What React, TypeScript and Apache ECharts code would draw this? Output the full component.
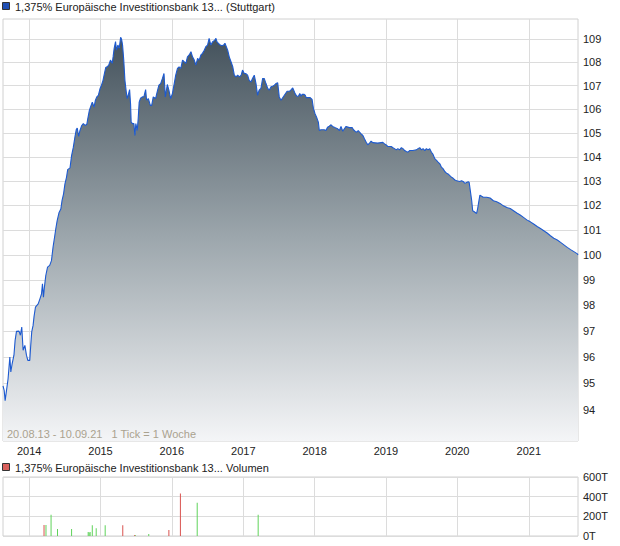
import React, { useEffect, useRef } from 'react';
import * as echarts from 'echarts';

const TITLE_PRICE = '1,375% Europäische Investitionsbank 13... (Stuttgart)';
const TITLE_VOLUME = '1,375% Europäische Investitionsbank 13... Volumen';
const RANGE_NOTE = '20.08.13 - 10.09.21   1 Tick = 1 Woche';

const X_MIN = '2013-08-20';
const X_MAX = '2021-09-10';
const YEAR_TICKS = ['2014-01-01', '2015-01-01', '2016-01-01', '2017-01-01', '2018-01-01', '2019-01-01', '2020-01-01', '2021-01-01'];
const PRICE_TICKS = [94, 95, 96, 97, 98, 99, 100, 101, 102, 103, 104, 105, 106, 107, 108, 109];
const PRICE_MIN = 92.83;
const PRICE_MAX = 109.89;
const VOLUME_TICKS = [0, 200000, 400000, 600000];

const PRICE: [string, number][] = [
  ['2013-08-20', 94.9], ['2013-08-26', 94.73], ['2013-08-31', 94.34], ['2013-09-07', 94.73], ['2013-09-15', 95.17],
  ['2013-09-24', 96.0], ['2013-09-29', 95.43], ['2013-10-06', 95.75], ['2013-10-15', 96.07], ['2013-10-21', 96.64],
  ['2013-10-28', 96.99], ['2013-11-10', 97.0], ['2013-11-17', 96.84], ['2013-11-24', 97.16], ['2013-12-01', 96.26],
  ['2013-12-10', 96.45], ['2013-12-18', 96.07], ['2013-12-25', 95.87], ['2014-01-04', 95.87], ['2014-01-09', 96.45],
  ['2014-01-14', 96.97], ['2014-01-21', 97.22], ['2014-01-26', 97.57], ['2014-02-02', 97.93], ['2014-02-16', 98.06],
  ['2014-02-25', 98.26], ['2014-03-05', 98.45], ['2014-03-10', 98.85], ['2014-03-15', 98.32], ['2014-03-20', 98.72],
  ['2014-03-27', 99.18], ['2014-04-05', 99.51], ['2014-04-16', 99.58], ['2014-04-25', 99.77], ['2014-05-03', 100.3],
  ['2014-05-12', 100.77], ['2014-05-17', 101.04], ['2014-05-24', 101.37], ['2014-06-03', 101.71], ['2014-06-12', 101.85],
  ['2014-06-18', 102.19], ['2014-06-26', 102.47], ['2014-07-03', 102.88], ['2014-07-11', 103.15], ['2014-07-17', 103.47],
  ['2014-07-29', 103.54], ['2014-08-06', 104.05], ['2014-08-15', 104.4], ['2014-08-23', 104.82], ['2014-08-30', 105.14],
  ['2014-09-04', 105.2], ['2014-09-11', 104.85], ['2014-09-18', 105.1], ['2014-09-27', 105.31], ['2014-10-05', 105.39],
  ['2014-10-14', 105.31], ['2014-10-23', 105.36], ['2014-10-28', 105.6], ['2014-11-05', 105.95], ['2014-11-12', 106.12],
  ['2014-11-20', 106.3], ['2014-11-29', 106.09], ['2014-12-06', 106.38], ['2014-12-13', 106.52], ['2014-12-21', 106.59],
  ['2014-12-30', 106.88], ['2015-01-06', 107.02], ['2015-01-14', 107.23], ['2015-01-21', 107.52], ['2015-01-28', 107.78],
  ['2015-02-04', 107.81], ['2015-02-12', 107.88], ['2015-02-21', 108.1], ['2015-03-02', 107.96], ['2015-03-07', 108.27],
  ['2015-03-12', 108.61], ['2015-03-19', 108.9], ['2015-03-24', 108.53], ['2015-03-31', 108.75], ['2015-04-07', 108.61],
  ['2015-04-14', 109.09], ['2015-04-19', 109.0], ['2015-04-24', 108.75], ['2015-04-30', 108.1], ['2015-05-06', 107.23],
  ['2015-05-13', 106.73], ['2015-05-18', 106.45], ['2015-05-25', 106.66], ['2015-05-30', 106.83], ['2015-06-04', 106.21],
  ['2015-06-07', 105.45], ['2015-06-14', 105.39], ['2015-06-21', 105.39], ['2015-06-26', 104.89], ['2015-07-01', 105.39],
  ['2015-07-08', 105.1], ['2015-07-13', 105.6], ['2015-07-18', 106.3], ['2015-07-25', 106.47], ['2015-08-03', 106.52],
  ['2015-08-11', 106.52], ['2015-08-20', 106.83], ['2015-08-25', 106.38], ['2015-09-03', 106.45], ['2015-09-13', 106.16],
  ['2015-09-20', 106.16], ['2015-09-28', 106.52], ['2015-10-10', 106.45], ['2015-10-19', 106.77], ['2015-10-27', 107.02],
  ['2015-11-05', 107.09], ['2015-11-14', 107.31], ['2015-11-22', 107.52], ['2015-11-29', 106.52], ['2015-12-09', 107.05],
  ['2015-12-17', 106.81], ['2015-12-26', 106.45], ['2016-01-04', 106.66], ['2016-01-12', 107.02], ['2016-01-21', 107.45],
  ['2016-01-30', 107.74], ['2016-02-07', 107.81], ['2016-02-16', 107.74], ['2016-02-25', 108.1], ['2016-03-04', 108.03],
  ['2016-03-13', 107.96], ['2016-03-21', 108.24], ['2016-03-30', 108.32], ['2016-04-08', 108.46], ['2016-04-16', 108.24],
  ['2016-04-25', 108.1], ['2016-05-03', 107.88], ['2016-05-12', 108.17], ['2016-05-20', 108.1], ['2016-05-29', 108.32],
  ['2016-06-06', 108.39], ['2016-06-15', 108.53], ['2016-06-23', 108.68], ['2016-07-02', 108.75], ['2016-07-10', 109.04],
  ['2016-07-19', 108.75], ['2016-07-28', 108.9], ['2016-08-05', 108.94], ['2016-08-14', 109.04], ['2016-08-19', 108.9],
  ['2016-08-26', 108.83], ['2016-09-05', 108.75], ['2016-09-14', 108.72], ['2016-09-22', 108.75], ['2016-09-29', 108.83],
  ['2016-10-06', 108.68], ['2016-10-13', 108.53], ['2016-10-21', 108.24], ['2016-10-30', 108.03], ['2016-11-08', 107.81],
  ['2016-11-16', 107.45], ['2016-11-25', 107.38], ['2016-12-03', 107.45], ['2016-12-12', 107.38], ['2016-12-21', 107.45],
  ['2016-12-28', 107.67], ['2017-01-06', 107.52], ['2017-01-14', 107.52], ['2017-01-23', 107.45], ['2017-01-31', 107.23],
  ['2017-02-09', 107.16], ['2017-02-17', 107.31], ['2017-02-26', 107.45], ['2017-03-07', 107.09], ['2017-03-15', 106.59],
  ['2017-03-23', 106.81], ['2017-04-01', 106.88], ['2017-04-10', 107.31], ['2017-04-18', 107.31], ['2017-04-27', 107.09],
  ['2017-05-06', 106.88], ['2017-05-14', 106.81], ['2017-05-23', 106.95], ['2017-05-31', 106.98], ['2017-06-09', 107.02],
  ['2017-06-17', 107.09], ['2017-06-26', 107.12], ['2017-07-04', 106.52], ['2017-07-13', 106.38], ['2017-07-30', 106.59],
  ['2017-08-13', 106.76], ['2017-08-25', 106.76], ['2017-09-03', 106.83], ['2017-09-11', 106.9], ['2017-09-16', 106.81],
  ['2017-09-23', 106.66], ['2017-10-02', 106.55], ['2017-10-10', 106.55], ['2017-10-17', 106.66], ['2017-10-24', 106.55],
  ['2017-10-29', 106.63], ['2017-11-07', 106.63], ['2017-11-14', 106.59], ['2017-11-19', 106.49], ['2017-12-09', 106.49],
  ['2017-12-19', 106.41], ['2017-12-26', 106.02], ['2017-12-29', 105.95], ['2018-01-03', 105.81], ['2018-01-11', 105.66],
  ['2018-01-20', 105.45], ['2018-01-25', 105.1], ['2018-02-02', 105.13], ['2018-02-19', 105.13], ['2018-02-28', 105.1],
  ['2018-03-08', 105.24], ['2018-03-17', 105.28], ['2018-03-26', 105.34], ['2018-04-03', 105.27], ['2018-04-12', 105.24],
  ['2018-04-20', 105.2], ['2018-04-29', 105.17], ['2018-05-08', 105.1], ['2018-05-16', 105.27], ['2018-05-25', 105.07],
  ['2018-06-02', 105.17], ['2018-06-11', 105.27], ['2018-06-28', 105.22], ['2018-07-12', 105.22], ['2018-07-19', 105.13],
  ['2018-07-28', 105.06], ['2018-08-05', 105.03], ['2018-08-12', 105.1], ['2018-08-19', 105.03], ['2018-08-27', 104.96],
  ['2018-09-05', 104.89], ['2018-09-13', 104.75], ['2018-09-22', 104.61], ['2018-09-30', 104.5], ['2018-10-09', 104.57],
  ['2018-10-17', 104.65], ['2018-10-26', 104.59], ['2018-11-20', 104.57], ['2018-12-16', 104.6], ['2018-12-25', 104.54],
  ['2019-01-03', 104.49], ['2019-01-11', 104.43], ['2019-01-28', 104.43], ['2019-02-06', 104.38], ['2019-02-14', 104.34],
  ['2019-02-23', 104.29], ['2019-03-03', 104.34], ['2019-03-12', 104.29], ['2019-03-21', 104.38], ['2019-03-29', 104.34],
  ['2019-04-07', 104.26], ['2019-04-15', 104.22], ['2019-04-24', 104.19], ['2019-05-02', 104.26], ['2019-05-19', 104.26],
  ['2019-06-06', 104.29], ['2019-06-14', 104.34], ['2019-06-23', 104.38], ['2019-07-02', 104.29], ['2019-07-10', 104.34],
  ['2019-07-19', 104.26], ['2019-07-27', 104.34], ['2019-08-05', 104.29], ['2019-08-13', 104.34], ['2019-08-22', 104.19],
  ['2019-08-30', 104.1], ['2019-09-08', 103.92], ['2019-09-17', 103.85], ['2019-09-25', 103.78], ['2019-10-04', 103.71],
  ['2019-10-12', 103.57], ['2019-10-21', 103.5], ['2019-10-29', 103.39], ['2019-11-07', 103.32], ['2019-11-15', 103.29],
  ['2019-11-24', 103.22], ['2019-12-03', 103.15], ['2019-12-11', 103.11], ['2019-12-20', 103.04], ['2019-12-29', 103.01],
  ['2020-01-14', 102.98], ['2020-01-23', 103.01], ['2020-01-31', 102.98], ['2020-02-09', 102.9], ['2020-02-18', 102.94],
  ['2020-02-26', 102.97], ['2020-03-02', 102.94], ['2020-03-09', 102.53], ['2020-03-15', 102.19], ['2020-03-20', 101.78],
  ['2020-03-28', 101.74], ['2020-04-09', 101.67], ['2020-04-14', 101.85], ['2020-04-21', 102.19], ['2020-04-26', 102.42],
  ['2020-05-05', 102.37], ['2020-05-13', 102.33], ['2020-05-31', 102.33], ['2020-06-17', 102.3], ['2020-07-04', 102.19],
  ['2020-07-21', 102.15], ['2020-08-07', 102.08], ['2020-08-24', 101.98], ['2020-09-11', 101.91], ['2020-09-28', 101.87],
  ['2020-10-15', 101.78], ['2020-11-01', 101.69], ['2020-11-18', 101.61], ['2020-12-05', 101.51], ['2020-12-22', 101.41],
  ['2021-01-09', 101.33], ['2021-01-26', 101.24], ['2021-02-13', 101.14], ['2021-03-02', 101.06], ['2021-03-19', 100.97],
  ['2021-04-05', 100.88], ['2021-04-22', 100.77], ['2021-05-09', 100.67], ['2021-05-27', 100.6], ['2021-06-13', 100.5],
  ['2021-06-30', 100.4], ['2021-07-17', 100.3], ['2021-08-03', 100.21], ['2021-08-20', 100.13], ['2021-09-07', 100.04],
  ['2021-09-10', 100.0],
];

const VOLUME_DATES = ['2014-03-18', '2014-03-28', '2014-04-23', '2014-05-26', '2014-08-06', '2014-10-30', '2014-11-04', '2014-11-09', '2014-11-20', '2014-12-10', '2015-01-25', '2015-04-25', '2015-06-25', '2015-06-29', '2015-09-05', '2015-12-17', '2016-02-14', '2016-05-10', '2017-03-18'];
const VOLUME_VALUES = [112000, 112000, 215000, 70000, 70000, 40000, 35000, 40000, 110000, 80000, 110000, 110000, 10000, 8000, 20000, 60000, 432000, 337000, 215000];
const VOLUME_UP = [false, true, true, true, true, true, true, true, true, true, true, false, false, true, true, false, false, true, true];

const FONT = 'Liberation Sans, Arial, sans-serif';

function ts(s: string): number {
  const [y, m, d] = s.split('-').map(Number);
  return Date.UTC(y, m - 1, d);
}

export default function App() {
  const ref = useRef<HTMLDivElement>(null);
  useEffect(() => {
    if (!ref.current) return;
    const chart = echarts.init(ref.current, undefined, { renderer: 'svg' });
    const yearTs = YEAR_TICKS.map(ts);
    const xMin = ts(X_MIN);
    const xMax = ts(X_MAX);
    const gridLine = { show: true, lineStyle: { color: '#dcdcdc', width: 1 } };
    const labelStyle = { color: '#222', fontSize: 11, fontFamily: FONT };

    chart.setOption({
      animation: false,
      backgroundColor: '#fff',
      grid: [
        { left: 3, right: 42, top: 19, bottom: 105, show: true, borderColor: '#d0d0d0', borderWidth: 1, backgroundColor: '#fff' },
        { left: 3, right: 42, top: 477, bottom: 10, show: true, borderColor: '#d0d0d0', borderWidth: 1, backgroundColor: '#fff' },
      ],
      xAxis: [
        {
          type: 'value', gridIndex: 0, min: xMin, max: xMax,
          axisLine: { show: false },
          axisTick: { show: false, customValues: yearTs },
          axisLabel: { ...labelStyle, customValues: yearTs, margin: 4, formatter: (v: number) => String(new Date(v).getUTCFullYear()) },
          splitLine: gridLine,
        },
        {
          type: 'value', gridIndex: 1, min: xMin, max: xMax,
          axisLine: { show: false },
          axisTick: { show: false, customValues: yearTs },
          axisLabel: { show: false, customValues: yearTs },
          splitLine: gridLine,
        },
      ],
      yAxis: [
        {
          type: 'log', logBase: 10, gridIndex: 0, position: 'right', min: PRICE_MIN, max: PRICE_MAX,
          axisLine: { show: false },
          axisTick: { show: false, customValues: PRICE_TICKS },
          axisLabel: { ...labelStyle, customValues: PRICE_TICKS, margin: 5, formatter: (v: number) => String(Math.round(v)) },
          splitLine: gridLine,
        },
        {
          type: 'value', gridIndex: 1, position: 'right', min: 0, max: 600000, interval: 200000,
          axisLine: { show: false },
          axisTick: { show: false, customValues: VOLUME_TICKS },
          axisLabel: { ...labelStyle, customValues: VOLUME_TICKS, margin: 5, formatter: (v: number) => `${Math.round(v / 1000)}T` },
          splitLine: gridLine,
        },
      ],
      series: [
        {
          type: 'line', xAxisIndex: 0, yAxisIndex: 0,
          data: PRICE.map(([d, v]) => [ts(d), v]),
          showSymbol: false, symbol: 'none',
          lineStyle: { color: '#1d5ad0', width: 1.1 },
          areaStyle: {
            origin: 'start',
            opacity: 1,
            color: new echarts.graphic.LinearGradient(0, 0, 0, 1, [
              { offset: 0, color: '#44525c' },
              { offset: 0.5, color: '#9da7ad' },
              { offset: 1, color: '#f4f5f7' },
            ]),
          },
          silent: true,
        },
        {
          type: 'bar', xAxisIndex: 1, yAxisIndex: 1, barWidth: 1,
          data: VOLUME_DATES.map((d, i) => ({
            value: [ts(d), VOLUME_VALUES[i]],
            itemStyle: { color: VOLUME_UP[i] ? '#5fd35a' : '#d9534f' },
          })),
          silent: true,
        },
      ],
      graphic: [
        { type: 'rect', shape: { x: 2.5, y: 2.5, width: 7, height: 7 }, style: { fill: '#1f4fb4', stroke: '#333', lineWidth: 1 } },
        { type: 'text', x: 15, y: 7, style: { text: TITLE_PRICE, fill: '#222', font: `11px ${FONT}`, verticalAlign: 'middle' } },
        { type: 'text', x: 7, y: 434, z: 100, style: { text: RANGE_NOTE, fill: '#aaa28f', font: `11px ${FONT}`, verticalAlign: 'middle' } },
        { type: 'rect', shape: { x: 2.5, y: 463.5, width: 7, height: 7 }, style: { fill: '#d9605c', stroke: '#333', lineWidth: 1 } },
        { type: 'text', x: 15, y: 468, style: { text: TITLE_VOLUME, fill: '#222', font: `11px ${FONT}`, verticalAlign: 'middle' } },
      ],
    });
    return () => chart.dispose();
  }, []);
  return <div ref={ref} style={{ position: 'absolute', left: 0, top: 0, width: 620, height: 546 }} />;
}
